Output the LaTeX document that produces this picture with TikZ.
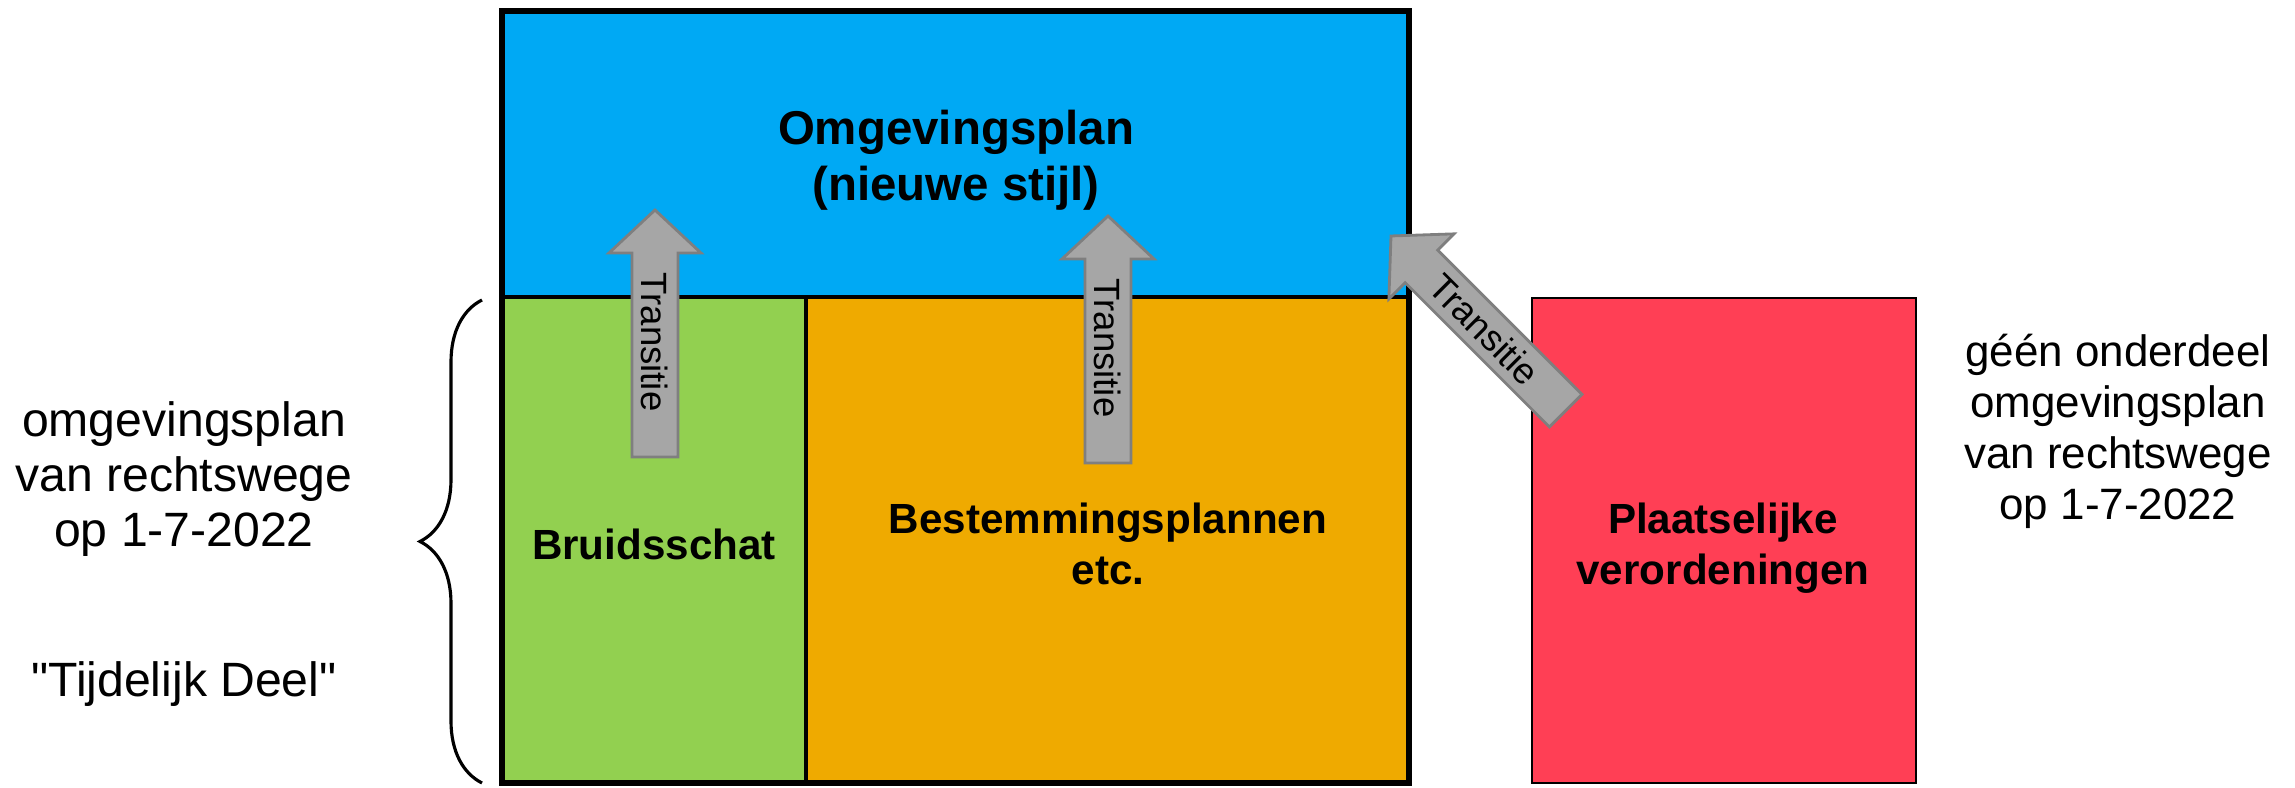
\documentclass[tikz,border=0pt]{standalone}
\usepackage{fontspec}
\setmainfont{Liberation Sans}
\newfontfamily\kaal{Liberation Sans}
\usetikzlibrary{calc,decorations.pathreplacing}

\definecolor{planblauw}{HTML}{00A9F4}
\definecolor{schatgroen}{HTML}{92D050}
\definecolor{bporanje}{HTML}{EFAA00}
\definecolor{verordrood}{HTML}{FF3F55}
\definecolor{pijlgrijs}{HTML}{A6A6A6}
\definecolor{pijlrand}{HTML}{7F7F7F}

\tikzset{
  pijl/.style={draw=pijlrand,fill=pijlgrijs,line width=.8pt,line join=miter},
  pijltekst/.style={font=\fontsize{10.4}{12}\selectfont,inner sep=0pt},
  vak/.style={font=\fontsize{12}{14.5}\selectfont\bfseries,align=center},
  kop/.style={font=\fontsize{13.5}{16}\selectfont\bfseries,align=center},
  uitleg/.style={align=center}
}

\newcommand{\transitiepijl}[3]{%
  \begin{scope}[shift={#1},rotate=#2]
    \draw[pijl] (0,0)--(-43,46)--(-43,23)--(-247,23)--(-247,-23)--(-43,-23)--(-43,-46)--cycle;
  \end{scope}
  \node[pijltekst,rotate=#2+180] (#3) at ($#1+(#2+180:132)$) {Transitie};
}

\begin{document}
\begin{tikzpicture}[x=0.1mm,y=0.1mm]
\useasboundingbox (0,0) rectangle (2295,788);
\fill[planblauw] (502,491) rectangle (1409,777);
\fill[schatgroen] (502,5) rectangle (806,491);
\fill[bporanje] (806,5) rectangle (1409,491);
\draw[line width=.9pt] (502,491)--(1409,491);
\draw[line width=.9pt] (806,5)--(806,491);
\draw[line width=1.8pt] (502,5) rectangle (1409,777);
\draw[fill=verordrood,line width=.8pt] (1532,5) rectangle (1916,490);

\node[kop] (plan) at (956,628) {Omgevingsplan\\(nieuwe stijl)};
\node[vak] (schat) at (654,244) {Bruidsschat};
\node[vak] (bp) at (1108,244) {Bestemmingsplannen\\etc.};
\node[vak] (verord) at (1723,240) {Plaatselijke\\verordeningen};

\transitiepijl{(655,578)}{90}{trans1}
\transitiepijl{(1108,572)}{90}{trans2}
\transitiepijl{(1391,552)}{135}{trans3}

\draw[line width=.9pt,decorate,decoration={brace,amplitude=6.2mm}] (482,5)--(482,488);
\node[uitleg,font=\fontsize{13.7}{15.6}\selectfont] (links) at (184,309) {omgevingsplan\\van rechtswege\\op 1-7-2022};
\node[font=\fontsize{13.7}{15.6}\selectfont\kaal] (tijdelijk) at (184,104) {"Tijdelijk Deel"};
\node[uitleg,font=\fontsize{12.5}{14.5}\selectfont] (rechts) at (2118,357) {géén onderdeel\\omgevingsplan\\van rechtswege\\op 1-7-2022};
\end{tikzpicture}
\end{document}
